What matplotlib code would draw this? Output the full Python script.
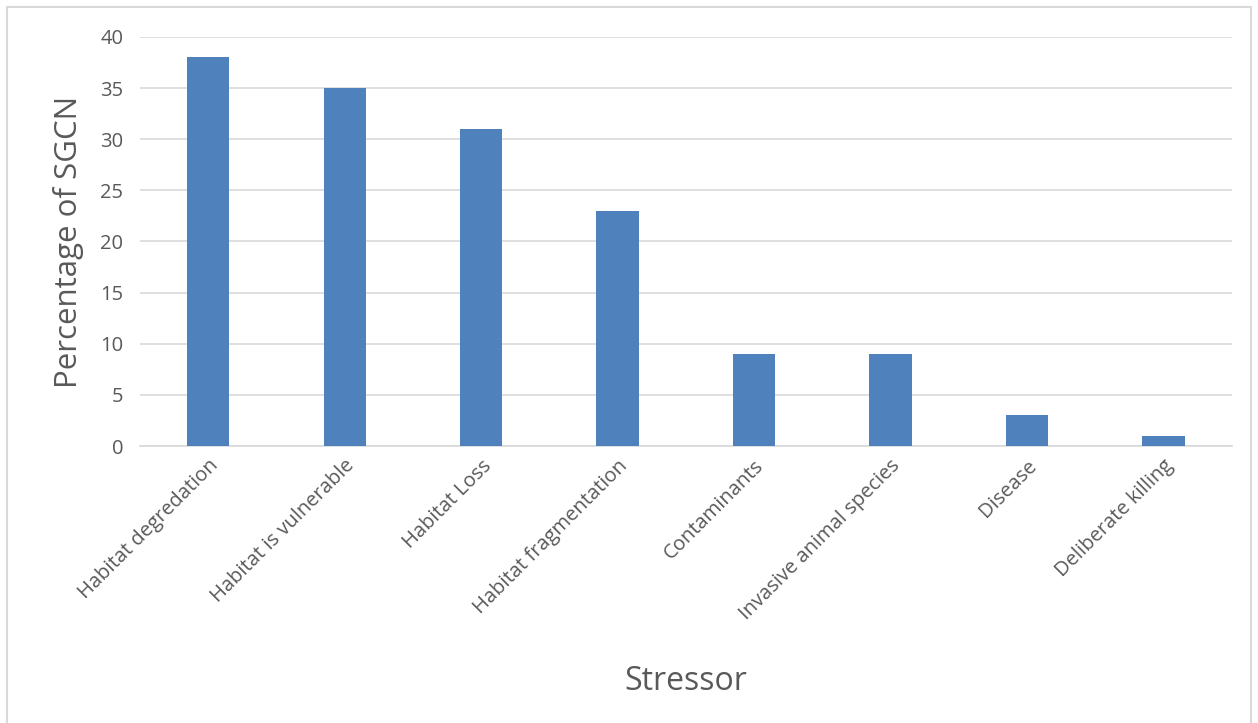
import matplotlib
matplotlib.use("Agg")
import matplotlib.pyplot as plt
from matplotlib.patches import Rectangle

stressors = [
    "Habitat degredation", "Habitat is vulnerable", "Habitat Loss",
    "Habitat fragmentation", "Contaminants", "Invasive animal species",
    "Disease", "Deliberate killing",
]
percentages = [38, 35, 31, 23, 9, 9, 3, 1]
yticks = [0, 5, 10, 15, 20, 25, 30, 35, 40]

plt.rcParams["font.family"] = ["Open Sans", "DejaVu Sans"]
text_color = "#595959"
grid_color = "#d9d9d9"

fig = plt.figure(figsize=(12.58, 7.23), dpi=100)
ax = fig.add_axes([0.1113, 0.383, 0.8677, 0.566])

x = range(len(stressors))
ax.bar(x, percentages, width=0.31, color="#4f81bd", zorder=3)

ax.set_xlim(-0.5, len(stressors) - 0.5)
ax.set_ylim(0, 40)
ax.set_yticks(yticks)
ax.set_xticks(list(x))
ax.set_xticklabels(stressors, rotation=45, ha="right", rotation_mode="anchor")
ax.tick_params(axis="both", length=0, labelsize=14.5, colors=text_color)
ax.tick_params(axis="y", pad=12)
ax.tick_params(axis="x", pad=7)

ax.grid(axis="y", color=grid_color, linewidth=1.2, zorder=0)
for side in ["top", "right", "left"]:
    ax.spines[side].set_visible(False)
ax.spines["bottom"].set_color(grid_color)
ax.spines["bottom"].set_linewidth(1.2)

ax.set_ylabel("Percentage of SGCN", fontsize=22.5, color=text_color, labelpad=12)
ax.set_xlabel("Stressor", fontsize=23, color=text_color)
ax.xaxis.set_label_coords(0.5, -0.535)

# light chart frame
fig.patches.append(Rectangle((7 / 1258, -0.02), 1244 / 1258, 1.02 - 7 / 723,
                             transform=fig.transFigure, fill=False,
                             edgecolor=grid_color, linewidth=1.5))

fig.savefig("out.png", dpi=100)
